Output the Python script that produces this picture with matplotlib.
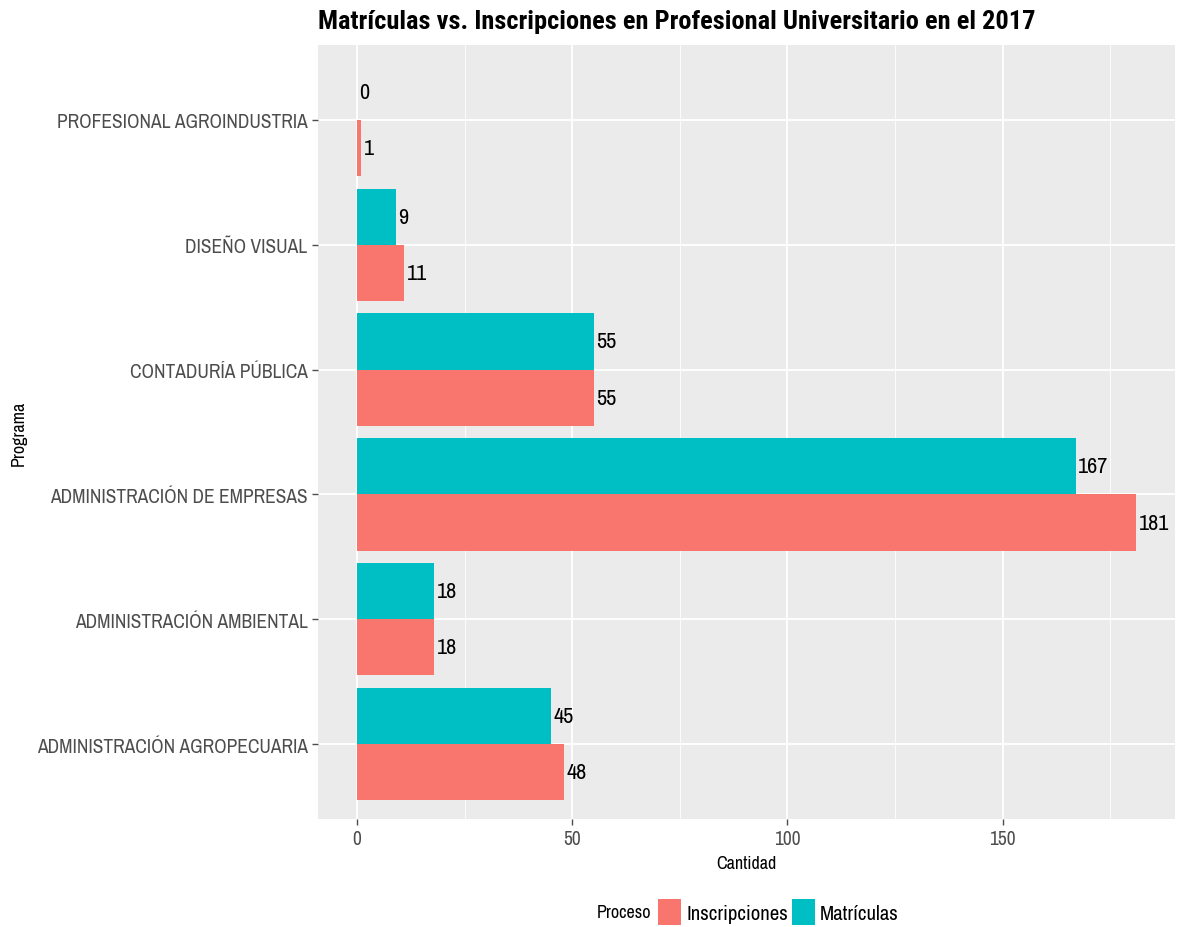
import matplotlib.pyplot as plt
from matplotlib.patches import Patch
from matplotlib import font_manager as fm
import numpy as np

# narrow fonts like the original (fall back if not installed)
available = set(f.name for f in fm.fontManager.ttflist)
narrow = [n for n in ['Archivo Narrow', 'PT Sans Narrow', 'Roboto Condensed', 'Liberation Sans'] if n in available]
bold_narrow = [n for n in ['Roboto Condensed', 'PT Sans Narrow', 'Archivo Narrow', 'Liberation Sans'] if n in available]
plt.rcParams['font.family'] = narrow[:1] + ['DejaVu Sans']

programas = ['ADMINISTRACIÓN AGROPECUARIA', 'ADMINISTRACIÓN AMBIENTAL', 'ADMINISTRACIÓN DE EMPRESAS',
             'CONTADURÍA PÚBLICA', 'DISEÑO VISUAL', 'PROFESIONAL AGROINDUSTRIA']
inscripciones = [48, 18, 181, 55, 11, 1]
matriculas = [45, 18, 167, 55, 9, 0]

c_ins = '#F8766D'
c_mat = '#00BFC4'

fig = plt.figure(figsize=(11.81, 9.28), dpi=100)
ax = fig.add_axes([318/1181, 1-820/928, (1175-318)/1181, (820-46)/928])
ax.set_facecolor('#EBEBEB')

y = np.arange(len(programas))
h = 0.45
ax.barh(y - h/2, inscripciones, height=h, color=c_ins, zorder=3)
ax.barh(y + h/2, matriculas, height=h, color=c_mat, zorder=3)

for i in range(len(programas)):
    ax.text(inscripciones[i] + 0.6, y[i] - h/2, str(inscripciones[i]), va='center', ha='left', fontsize=16, zorder=4)
    ax.text(matriculas[i] + 0.6, y[i] + h/2, str(matriculas[i]), va='center', ha='left', fontsize=16, zorder=4)

xmax = max(inscripciones)
ax.set_xlim(-0.05*xmax, 1.05*xmax)
ax.set_ylim(-0.6, len(programas) - 0.4)

ax.set_xticks([0, 50, 100, 150])
ax.set_xticks([25, 75, 125, 175], minor=True)
ax.set_yticks(y)
ax.set_yticklabels(programas)
ax.tick_params(axis='both', labelsize=14, colors='#4D4D4D', length=4, width=1)
ax.tick_params(which='minor', length=0)
ax.grid(which='major', color='white', linewidth=1.3, zorder=0)
ax.grid(which='minor', axis='x', color='white', linewidth=0.6, zorder=0)
for s in ax.spines.values():
    s.set_visible(False)

ax.set_xlabel('Cantidad', fontsize=13, labelpad=5)
ax.set_ylabel('Programa', fontsize=13, labelpad=7)
ax.set_title('Matrículas vs. Inscripciones en Profesional Universitario en el 2017',
             fontsize=19, fontweight='bold', loc='left', pad=12, family=bold_narrow[:1] + ['DejaVu Sans'])

fig.text(597/1181, 1-913/928, 'Proceso', fontsize=13, va='center', ha='left')
handles = [Patch(facecolor=c_ins), Patch(facecolor=c_mat)]
fig.legend(handles, ['Inscripciones', 'Matrículas'], loc='center left',
           bbox_to_anchor=(658/1181, 1-913/928), ncol=2, frameon=False, fontsize=15,
           handlelength=1.1, handleheight=1.6, handletextpad=0.25, columnspacing=0.2,
           borderaxespad=0, borderpad=0)

fig.savefig('out.png', dpi=100)
